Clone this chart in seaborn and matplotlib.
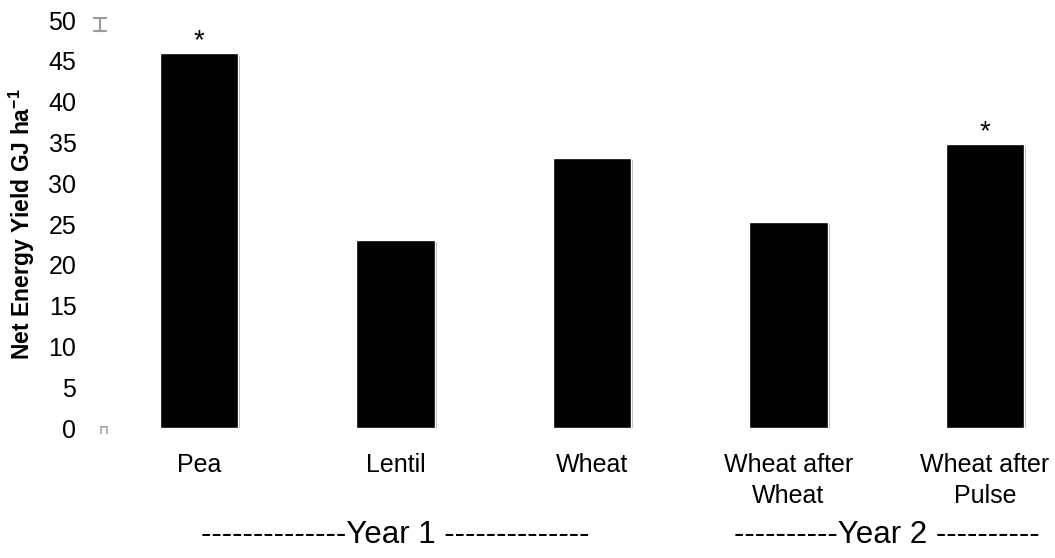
import matplotlib
matplotlib.use("Agg")
import matplotlib.pyplot as plt
import matplotlib.patheffects as pe
import matplotlib.transforms as mtrans
import seaborn as sns
import pandas as pd

categories = ["Pea", "Lentil", "Wheat", "Wheat after\nWheat", "Wheat after\nPulse"]
values = [45.9, 23.0, 33.1, 25.2, 34.8]
significant = [True, False, False, False, True]
y_ticks = [0, 5, 10, 15, 20, 25, 30, 35, 40, 45, 50]
group_labels = ["--------------Year 1 --------------", "----------Year 2 ----------"]
group_centers = [1.0, 3.5]

sns.set_theme(style="white")
plt.rcParams['font.family'] = ['Liberation Sans', 'DejaVu Sans']
plt.rcParams['mathtext.fontset'] = 'custom'
plt.rcParams['mathtext.rm'] = 'Liberation Sans'
plt.rcParams['mathtext.bf'] = 'Liberation Sans:bold'
plt.rcParams['text.color'] = 'black'
plt.rcParams['axes.labelcolor'] = 'black'
plt.rcParams['xtick.color'] = 'black'
plt.rcParams['ytick.color'] = 'black'

df = pd.DataFrame({"cat": categories, "val": values})

fig = plt.figure(figsize=(10.55, 5.58), dpi=100)
W, H = 1055, 558
L, R, T, B = 100, 1050, 20, 428
ax = fig.add_axes([L / W, (H - B) / H, (R - L) / W, (B - T) / H])

sns.barplot(data=df, x="cat", y="val", color="black", width=0.4, ax=ax,
            saturation=1, order=categories)
for p in ax.patches:
    p.set_path_effects([pe.SimplePatchShadow(offset=(1.5, -1.5), shadow_rgbFace="gray", alpha=0.6),
                        pe.Normal()])

for i, (v, s) in enumerate(zip(values, significant)):
    if s:
        ax.text(i, v - 0.1, "*", ha="center", va="bottom", fontsize=20, color="black")

x0 = 199
sp = 196.5
xl = (L - x0) / sp
ax.set_xlim(xl, (R - x0) / sp)
ax.set_ylim(0, 50)
ax.set_yticks(y_ticks)
ax.set_yticklabels([str(t) for t in y_ticks], fontsize=18)
ax.tick_params(axis="y", length=0, pad=17)
ax.tick_params(axis="x", length=0, pad=18, labelsize=18)
for t in ax.get_xticklabels():
    t.set_linespacing(1.35)
for sp_ in ax.spines.values():
    sp_.set_visible(False)
ax.set_xlabel("")
ax.set_ylabel(r"Net Energy Yield GJ ha$^{\mathbf{-1}}$", fontsize=16.5, fontweight="bold", labelpad=8)

# faint remnant marks at the value axis
ax.errorbar([xl], [y_ticks[-1] - 0.5], yerr=0.8, color="#999999", capsize=5, lw=1.5,
            capthick=1.5, clip_on=False)
ax.text(xl + 0.02, y_ticks[0] - 0.3, "\u2293", ha="center", va="center", fontsize=9,
        color="#999999", family="DejaVu Sans", fontweight="bold")

trans = mtrans.blended_transform_factory(ax.transData, fig.transFigure)
for c, lbl in zip(group_centers, group_labels):
    ax.text(c, 1 - 543 / H, lbl, transform=trans, ha="center", va="baseline", fontsize=22.5)

fig.savefig("out.png", dpi=100)
